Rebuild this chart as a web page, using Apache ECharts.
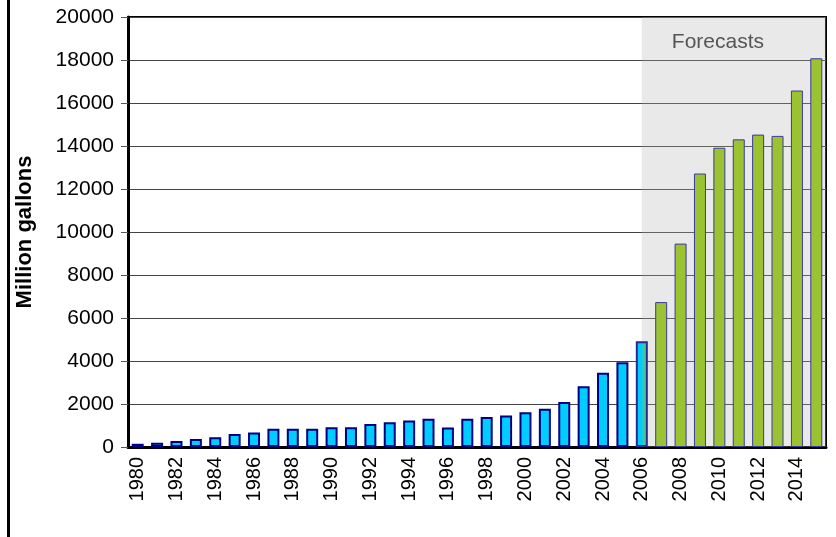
<!DOCTYPE html>
<html>
<head>
<meta charset="utf-8">
<script src="https://cdn.jsdelivr.net/npm/echarts@6/dist/echarts.min.js"></script>
<style>html,body{margin:0;padding:0;background:#fff;}#c{width:836px;height:537px;}</style>
</head>
<body>
<div id="c"></div>
<script>
var years = ['1980','1981','1982','1983','1984','1985','1986','1987','1988','1989','1990','1991','1992','1993','1994','1995','1996','1997','1998','1999','2000','2001','2002','2003','2004','2005','2006','2007','2008','2009','2010','2011','2012','2013','2014','2015'];
var histValues = [150,200,280,375,450,610,670,845,845,845,920,920,1075,1150,1230,1310,910,1310,1390,1460,1620,1780,2090,2820,3450,3940,4920];
var forecastValues = [6740,9460,12720,13920,14310,14530,14470,16580,18080];
var yTicks = {min: 0, max: 20000, interval: 2000};
var forecastLabel = 'Forecasts';
var forecastStart = 26.5, forecastEnd = 36;

var cyan = '#00CCFF', green = '#9BC230';
var barData = [];
histValues.forEach(function (v, i) {
  var item = {value: v, itemStyle: {color: cyan, borderColor: '#000080', borderWidth: 2}};
  if (i === histValues.length - 1) {
    item.itemStyle.color = new echarts.graphic.LinearGradient(0, 0, 1, 0, [
      {offset: 0, color: cyan}, {offset: 0.45, color: cyan}, {offset: 1, color: green}
    ]);
    item.itemStyle.borderColor = '#2a2a90';
  }
  barData.push(item);
});
forecastValues.forEach(function (v) {
  barData.push({value: v, itemStyle: {color: green, borderColor: '#3a3aa0', borderWidth: 1}});
});

var chart = echarts.init(document.getElementById('c'));
chart.setOption({
  animation: false,
  backgroundColor: '#fff',
  grid: {left: 128, right: 10, top: 17, bottom: 90, show: true, borderColor: '#000', borderWidth: 2},
  xAxis: [{
    type: 'category',
    data: years,
    axisLine: {lineStyle: {color: '#000', width: 3}},
    axisTick: {interval: 0, length: 7, lineStyle: {color: '#555', width: 1}},
    axisLabel: {interval: 1, rotate: 90, fontSize: 20, color: '#000', margin: 10, fontFamily: 'Liberation Sans'}
  }, {
    type: 'value', min: 0, max: 36, show: false
  }],
  yAxis: {
    type: 'value',
    min: yTicks.min, max: yTicks.max, interval: yTicks.interval,
    name: 'Million gallons', nameLocation: 'middle', nameGap: 92,
    nameTextStyle: {fontSize: 22, fontWeight: 'bold', color: '#000', fontFamily: 'Liberation Sans'},
    axisLine: {show: true, lineStyle: {color: '#000', width: 3}},
    axisTick: {show: true, length: 7, lineStyle: {color: '#555'}},
    axisLabel: {fontSize: 21, color: '#000', margin: 14, fontFamily: 'Liberation Sans', formatter: function (v) { return String(v); }},
    splitLine: {lineStyle: {color: '#444', width: 1}}
  },
  series: [{
    type: 'bar',
    data: barData,
    barWidth: 12,
    z: 3
  }, {
    type: 'line',
    xAxisIndex: 1,
    data: [],
    z: 1,
    markArea: {
      silent: true,
      itemStyle: {color: 'rgba(175,175,175,0.28)'},
      label: {show: true, position: 'insideTop', distance: 15, offset: [-16, 0], color: '#555', fontSize: 21, fontFamily: 'Liberation Sans'},
      data: [[{xAxis: forecastStart, name: forecastLabel}, {xAxis: forecastEnd}]]
    }
  }],
  graphic: [{type: 'rect', left: 7, top: 0, shape: {width: 3, height: 537}, style: {fill: '#000'}}]
});
</script>
</body>
</html>
